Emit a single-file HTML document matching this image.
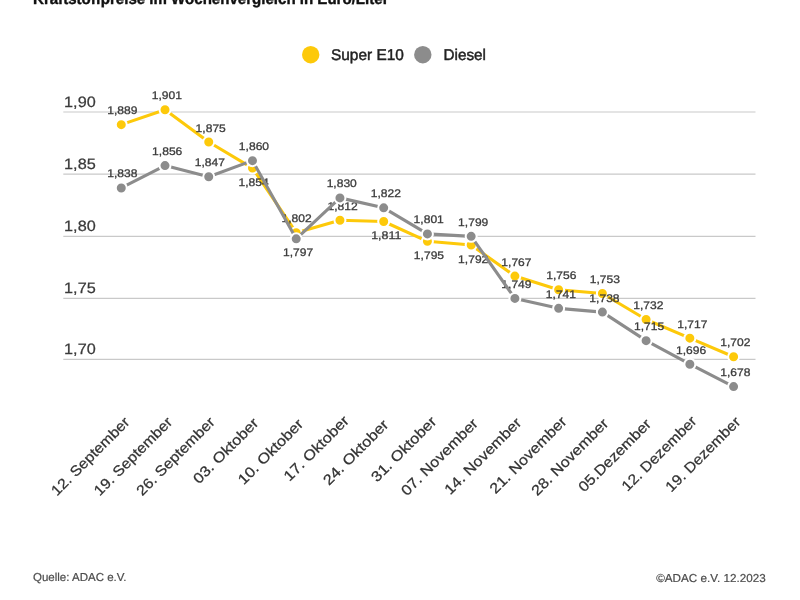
<!DOCTYPE html>
<html lang="de"><head><meta charset="utf-8"><title>Kraftstoffpreise im Wochenvergleich</title>
<style>
html,body{margin:0;padding:0;background:#fff;}
body{width:800px;height:600px;overflow:hidden;position:relative;font-family:"Liberation Sans",sans-serif;}
svg{position:absolute;left:0;top:0;display:block;}
text{font-family:"Liberation Sans",sans-serif;text-rendering:geometricPrecision;}
.title{font-weight:bold;font-size:16px;fill:#111;stroke:#111;stroke-width:.4px;}
.leg{font-size:15.5px;fill:#222;stroke:#222;stroke-width:.45px;}
.yl{font-size:15px;fill:#3a3a3a;stroke:#3a3a3a;stroke-width:.25px;}
.dl{font-size:11px;fill:#3c3c3c;stroke:#3c3c3c;stroke-width:.3px;text-anchor:middle;}
.xl{font-size:14.5px;fill:#333;stroke:#333;stroke-width:.25px;text-anchor:end;}
.ft{font-size:11.5px;fill:#4c4c4c;stroke:#4c4c4c;stroke-width:.2px;}
</style></head><body>
<svg width="800" height="600" viewBox="0 0 800 600">
<rect width="800" height="600" fill="#fff"/>
<text class="title" x="33" y="4.1" textLength="355.5" lengthAdjust="spacingAndGlyphs">Kraftstoffpreise im Wochenvergleich in Euro/Liter</text>
<circle cx="310.7" cy="54.7" r="8.7" fill="#fdc90a"/><text class="leg" x="331" y="60.4" textLength="72.8" lengthAdjust="spacingAndGlyphs">Super E10</text>
<circle cx="422.8" cy="54.7" r="8.7" fill="#8c8c8c"/><text class="leg" x="443.5" y="60.4" textLength="42.5" lengthAdjust="spacingAndGlyphs">Diesel</text>
<line x1="63.3" x2="755.5" y1="112.00" y2="112.00" stroke="#c9c9c9" stroke-width="1.2"/><text class="yl" x="64.1" y="106.70" textLength="31.6" lengthAdjust="spacingAndGlyphs">1,90</text>
<line x1="63.3" x2="755.5" y1="174.20" y2="174.20" stroke="#c9c9c9" stroke-width="1.2"/><text class="yl" x="64.1" y="168.90" textLength="31.6" lengthAdjust="spacingAndGlyphs">1,85</text>
<line x1="63.3" x2="755.5" y1="236.30" y2="236.30" stroke="#c9c9c9" stroke-width="1.2"/><text class="yl" x="64.1" y="231.00" textLength="31.6" lengthAdjust="spacingAndGlyphs">1,80</text>
<line x1="63.3" x2="755.5" y1="298.40" y2="298.40" stroke="#c9c9c9" stroke-width="1.2"/><text class="yl" x="64.1" y="293.10" textLength="31.6" lengthAdjust="spacingAndGlyphs">1,75</text>
<line x1="63.3" x2="755.5" y1="359.40" y2="359.40" stroke="#c9c9c9" stroke-width="1.2"/><text class="yl" x="64.1" y="354.10" textLength="31.6" lengthAdjust="spacingAndGlyphs">1,70</text>
<polyline points="121.27,124.64 165.01,109.75 208.74,142.02 252.48,168.09 296.22,232.64 339.95,220.23 383.69,221.47 427.43,241.33 471.17,245.05 514.90,276.09 558.64,289.74 602.38,293.47 646.11,319.53 689.85,338.15 733.59,356.77" fill="none" stroke="#fdc90a" stroke-width="3.1" stroke-linejoin="round" stroke-linecap="round"/>
<circle cx="121.27" cy="124.64" r="5.5" fill="#fdc90a" stroke="#fff" stroke-width="2"/><circle cx="165.01" cy="109.75" r="5.5" fill="#fdc90a" stroke="#fff" stroke-width="2"/><circle cx="208.74" cy="142.02" r="5.5" fill="#fdc90a" stroke="#fff" stroke-width="2"/><circle cx="252.48" cy="168.09" r="5.5" fill="#fdc90a" stroke="#fff" stroke-width="2"/><circle cx="296.22" cy="232.64" r="5.5" fill="#fdc90a" stroke="#fff" stroke-width="2"/><circle cx="339.95" cy="220.23" r="5.5" fill="#fdc90a" stroke="#fff" stroke-width="2"/><circle cx="383.69" cy="221.47" r="5.5" fill="#fdc90a" stroke="#fff" stroke-width="2"/><circle cx="427.43" cy="241.33" r="5.5" fill="#fdc90a" stroke="#fff" stroke-width="2"/><circle cx="471.17" cy="245.05" r="5.5" fill="#fdc90a" stroke="#fff" stroke-width="2"/><circle cx="514.90" cy="276.09" r="5.5" fill="#fdc90a" stroke="#fff" stroke-width="2"/><circle cx="558.64" cy="289.74" r="5.5" fill="#fdc90a" stroke="#fff" stroke-width="2"/><circle cx="602.38" cy="293.47" r="5.5" fill="#fdc90a" stroke="#fff" stroke-width="2"/><circle cx="646.11" cy="319.53" r="5.5" fill="#fdc90a" stroke="#fff" stroke-width="2"/><circle cx="689.85" cy="338.15" r="5.5" fill="#fdc90a" stroke="#fff" stroke-width="2"/><circle cx="733.59" cy="356.77" r="5.5" fill="#fdc90a" stroke="#fff" stroke-width="2"/>
<text class="dl" x="122.37" y="114.14" textLength="30.2" lengthAdjust="spacingAndGlyphs">1,889</text><text class="dl" x="166.91" y="99.25" textLength="30.2" lengthAdjust="spacingAndGlyphs">1,901</text><text class="dl" x="210.74" y="131.52" textLength="30.2" lengthAdjust="spacingAndGlyphs">1,875</text><text class="dl" x="253.63" y="185.69" textLength="30.2" lengthAdjust="spacingAndGlyphs">1,854</text><text class="dl" x="296.62" y="222.14" textLength="30.2" lengthAdjust="spacingAndGlyphs">1,802</text><text class="dl" x="342.56" y="209.73" textLength="30.2" lengthAdjust="spacingAndGlyphs">1,812</text><text class="dl" x="386.29" y="239.07" textLength="30.2" lengthAdjust="spacingAndGlyphs">1,811</text><text class="dl" x="428.98" y="258.93" textLength="30.2" lengthAdjust="spacingAndGlyphs">1,795</text><text class="dl" x="473.22" y="262.65" textLength="30.2" lengthAdjust="spacingAndGlyphs">1,792</text><text class="dl" x="516.45" y="265.59" textLength="30.2" lengthAdjust="spacingAndGlyphs">1,767</text><text class="dl" x="561.29" y="279.24" textLength="30.2" lengthAdjust="spacingAndGlyphs">1,756</text><text class="dl" x="604.88" y="282.97" textLength="30.2" lengthAdjust="spacingAndGlyphs">1,753</text><text class="dl" x="648.36" y="309.03" textLength="30.2" lengthAdjust="spacingAndGlyphs">1,732</text><text class="dl" x="692.35" y="327.65" textLength="30.2" lengthAdjust="spacingAndGlyphs">1,717</text><text class="dl" x="735.29" y="346.27" textLength="30.2" lengthAdjust="spacingAndGlyphs">1,702</text>
<text class="dl" x="122.42" y="177.45" textLength="30.2" lengthAdjust="spacingAndGlyphs">1,838</text><text class="dl" x="167.21" y="155.11" textLength="30.2" lengthAdjust="spacingAndGlyphs">1,856</text><text class="dl" x="209.79" y="166.28" textLength="30.2" lengthAdjust="spacingAndGlyphs">1,847</text><text class="dl" x="253.98" y="150.14" textLength="30.2" lengthAdjust="spacingAndGlyphs">1,860</text><text class="dl" x="298.12" y="256.45" textLength="30.2" lengthAdjust="spacingAndGlyphs">1,797</text><text class="dl" x="341.75" y="187.38" textLength="30.2" lengthAdjust="spacingAndGlyphs">1,830</text><text class="dl" x="385.79" y="197.31" textLength="30.2" lengthAdjust="spacingAndGlyphs">1,822</text><text class="dl" x="428.73" y="223.38" textLength="30.2" lengthAdjust="spacingAndGlyphs">1,801</text><text class="dl" x="473.22" y="225.86" textLength="30.2" lengthAdjust="spacingAndGlyphs">1,799</text><text class="dl" x="516.45" y="287.93" textLength="30.2" lengthAdjust="spacingAndGlyphs">1,749</text><text class="dl" x="560.94" y="297.86" textLength="30.2" lengthAdjust="spacingAndGlyphs">1,741</text><text class="dl" x="604.48" y="301.59" textLength="30.2" lengthAdjust="spacingAndGlyphs">1,738</text><text class="dl" x="649.11" y="330.14" textLength="30.2" lengthAdjust="spacingAndGlyphs">1,715</text><text class="dl" x="691.10" y="353.72" textLength="30.2" lengthAdjust="spacingAndGlyphs">1,696</text><text class="dl" x="735.29" y="376.07" textLength="30.2" lengthAdjust="spacingAndGlyphs">1,678</text>
<polyline points="121.27,187.95 165.01,165.61 208.74,176.78 252.48,160.64 296.22,238.85 339.95,197.88 383.69,207.81 427.43,233.88 471.17,236.36 514.90,298.43 558.64,308.36 602.38,312.09 646.11,340.64 689.85,364.22 733.59,386.57" fill="none" stroke="#8c8c8c" stroke-width="3.1" stroke-linejoin="round" stroke-linecap="round"/>
<circle cx="121.27" cy="187.95" r="5.5" fill="#8c8c8c" stroke="#fff" stroke-width="2"/><circle cx="165.01" cy="165.61" r="5.5" fill="#8c8c8c" stroke="#fff" stroke-width="2"/><circle cx="208.74" cy="176.78" r="5.5" fill="#8c8c8c" stroke="#fff" stroke-width="2"/><circle cx="252.48" cy="160.64" r="5.5" fill="#8c8c8c" stroke="#fff" stroke-width="2"/><circle cx="296.22" cy="238.85" r="5.5" fill="#8c8c8c" stroke="#fff" stroke-width="2"/><circle cx="339.95" cy="197.88" r="5.5" fill="#8c8c8c" stroke="#fff" stroke-width="2"/><circle cx="383.69" cy="207.81" r="5.5" fill="#8c8c8c" stroke="#fff" stroke-width="2"/><circle cx="427.43" cy="233.88" r="5.5" fill="#8c8c8c" stroke="#fff" stroke-width="2"/><circle cx="471.17" cy="236.36" r="5.5" fill="#8c8c8c" stroke="#fff" stroke-width="2"/><circle cx="514.90" cy="298.43" r="5.5" fill="#8c8c8c" stroke="#fff" stroke-width="2"/><circle cx="558.64" cy="308.36" r="5.5" fill="#8c8c8c" stroke="#fff" stroke-width="2"/><circle cx="602.38" cy="312.09" r="5.5" fill="#8c8c8c" stroke="#fff" stroke-width="2"/><circle cx="646.11" cy="340.64" r="5.5" fill="#8c8c8c" stroke="#fff" stroke-width="2"/><circle cx="689.85" cy="364.22" r="5.5" fill="#8c8c8c" stroke="#fff" stroke-width="2"/><circle cx="733.59" cy="386.57" r="5.5" fill="#8c8c8c" stroke="#fff" stroke-width="2"/>
<text class="xl" transform="translate(130.57,423.00) rotate(-45)" textLength="103.9" lengthAdjust="spacingAndGlyphs">12. September</text>
<text class="xl" transform="translate(173.31,423.00) rotate(-45)" textLength="103.9" lengthAdjust="spacingAndGlyphs">19. September</text>
<text class="xl" transform="translate(215.64,423.00) rotate(-45)" textLength="103.9" lengthAdjust="spacingAndGlyphs">26. September</text>
<text class="xl" transform="translate(259.38,424.00) rotate(-45)" textLength="85.4" lengthAdjust="spacingAndGlyphs">03. Oktober</text>
<text class="xl" transform="translate(304.12,425.00) rotate(-45)" textLength="85.4" lengthAdjust="spacingAndGlyphs">10. Oktober</text>
<text class="xl" transform="translate(349.86,421.60) rotate(-45)" textLength="85.4" lengthAdjust="spacingAndGlyphs">17. Oktober</text>
<text class="xl" transform="translate(389.39,425.60) rotate(-45)" textLength="85.4" lengthAdjust="spacingAndGlyphs">24. Oktober</text>
<text class="xl" transform="translate(437.33,422.40) rotate(-45)" textLength="85.4" lengthAdjust="spacingAndGlyphs">31. Oktober</text>
<text class="xl" transform="translate(478.87,424.40) rotate(-45)" textLength="101.8" lengthAdjust="spacingAndGlyphs">07. November</text>
<text class="xl" transform="translate(522.20,423.60) rotate(-45)" textLength="101.8" lengthAdjust="spacingAndGlyphs">14. November</text>
<text class="xl" transform="translate(567.54,422.40) rotate(-45)" textLength="101.8" lengthAdjust="spacingAndGlyphs">21. November</text>
<text class="xl" transform="translate(609.28,424.40) rotate(-45)" textLength="101.8" lengthAdjust="spacingAndGlyphs">28. November</text>
<text class="xl" transform="translate(652.01,425.00) rotate(-45)" textLength="95.8" lengthAdjust="spacingAndGlyphs">05.Dezember</text>
<text class="xl" transform="translate(697.55,422.00) rotate(-45)" textLength="99.1" lengthAdjust="spacingAndGlyphs">12. Dezember</text>
<text class="xl" transform="translate(741.39,422.75) rotate(-45)" textLength="99.1" lengthAdjust="spacingAndGlyphs">19. Dezember</text>
<text class="ft" x="33" y="581.2">Quelle: ADAC e.V.</text>
<text class="ft" x="765.8" y="581.7" text-anchor="end" textLength="109.6" lengthAdjust="spacingAndGlyphs">©ADAC e.V. 12.2023</text>
</svg></body></html>
